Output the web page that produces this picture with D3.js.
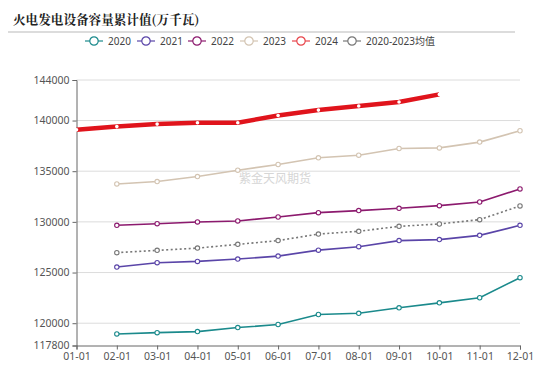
<!DOCTYPE html>
<html><head><meta charset="utf-8">
<script src="https://cdn.jsdelivr.net/npm/d3@7"></script>
<style>body{margin:0;background:#fff;}svg{display:block;}</style>
</head><body>
<svg id="c" width="550" height="365"></svg>
<script>
const months = ["01-01","02-01","03-01","04-01","05-01","06-01","07-01","08-01","09-01","10-01","11-01","12-01"];
const yTicks = [117800,120000,125000,130000,135000,140000,144000];
const s2020 = [null,118940,119070,119170,119570,119870,120860,120980,121520,122010,122510,124490];
const s2021 = [null,125540,125970,126100,126330,126620,127210,127550,128150,128250,128670,129660];
const s2022 = [null,129660,129820,129990,130090,130480,130910,131110,131340,131600,131960,133250];
const s2023 = [null,133740,133980,134470,135100,135660,136320,136580,137240,137300,137870,138990];
const s2024 = [139080,139400,139650,139780,139780,140500,141030,141430,141830,142580,null,null];
const sAvg  = [null,126960,127190,127410,127780,128150,128800,129070,129560,129790,130220,131570];
const seriesNames = ["2020","2021","2022","2023","2024","2020-2023均值"];

const colors = ["#1b8a8c","#5a45a8","#8c1a6e","#d3c4b2","#e0141c","#777777"];
const legendColors = ["#1b8a8c","#5a45a8","#8c1a6e","#d3c4b2","#e8444a","#777777"];
const data = [s2020,s2021,s2022,s2023,s2024,sAvg];

const svg = d3.select("#c");
const font = "'Noto Sans', 'Noto Sans CJK SC', sans-serif";

const x = d3.scalePoint().domain(months).range([76.5, 520]);
const y = d3.scaleLinear().domain([117800,144000]).range([345.5, 80]);

// title
svg.append("text").attr("x",13).attr("y",24).text("火电发电设备容量累计值(万千瓦)")
  .attr("font-family","'Noto Serif CJK SC','Noto Sans CJK SC',serif").attr("font-weight","bold")
  .attr("font-size",12.6).attr("fill","#222");
svg.append("line").attr("x1",8).attr("x2",515).attr("y1",32).attr("y2",32).attr("stroke","#d0d0d0").attr("stroke-width",1.5);

// legend
const legX = [85,137,188,240,292,343];
seriesNames.forEach((n,i)=>{
  const g = svg.append("g").attr("transform",`translate(${legX[i]},41)`);
  g.append("line").attr("x1",0).attr("x2",18).attr("y1",0).attr("y2",0).attr("stroke",legendColors[i]).attr("stroke-width",1.2);
  g.append("circle").attr("cx",9).attr("cy",0).attr("r",4.2).attr("fill","#fff").attr("stroke",legendColors[i]).attr("stroke-width",1.2);
  g.append("text").attr("x",23).attr("y",3.8).text(n).attr("font-family",font).attr("font-size",10).attr("fill","#444");
});

// grid
svg.append("g").selectAll("line").data(yTicks.filter(t=>t!==117800)).join("line")
  .attr("x1",76.5).attr("x2",520).attr("y1",d=>y(d)).attr("y2",d=>y(d))
  .attr("stroke","#dcdcdc").attr("stroke-width",1);

// axes
const yAxis = svg.append("g").attr("transform","translate(76.5,0)")
  .call(d3.axisLeft(y).tickValues(yTicks).tickFormat(d3.format("d")).tickSize(4).tickPadding(3));
const xAxis = svg.append("g").attr("transform","translate(0,345.5)")
  .call(d3.axisBottom(x).tickSize(4).tickPadding(3));
[yAxis,xAxis].forEach(a=>{
  a.select(".domain").attr("stroke","#666");
  a.selectAll(".tick line").attr("stroke","#666");
  a.selectAll("text").attr("font-family",font).attr("font-size",10.5).attr("fill","#555");
});

// watermark
svg.append("text").attr("x",239).attr("y",183).text("紫金天风期货").attr("font-family","'Noto Sans CJK SC',sans-serif")
  .attr("font-size",12).attr("fill","#ccc").attr("opacity",0.8);

// lines
const line = d3.line().defined(d=>d.v!=null).x(d=>x(d.m)).y(d=>y(d.v));
const order = [3,2,5,1,0,4];
order.forEach(i=>{
  const pts = months.map((m,j)=>({m, v:data[i][j]}));
  const isRed = i===4, isAvg = i===5;
  svg.append("path").datum(pts).attr("d",line).attr("fill","none")
    .attr("stroke",colors[i]).attr("stroke-width",isRed?4.5:1.6)
    .attr("stroke-dasharray",isAvg?"2,2.5":null);
  svg.append("g").selectAll("circle").data(pts.filter(d=>d.v!=null)).join("circle")
    .attr("cx",d=>x(d.m)).attr("cy",d=>y(d.v)).attr("r",isRed?1.8:2.2)
    .attr("fill","#fff").attr("stroke",isRed?"none":colors[i]).attr("stroke-width",1.1);
});
</script>
</body></html>
